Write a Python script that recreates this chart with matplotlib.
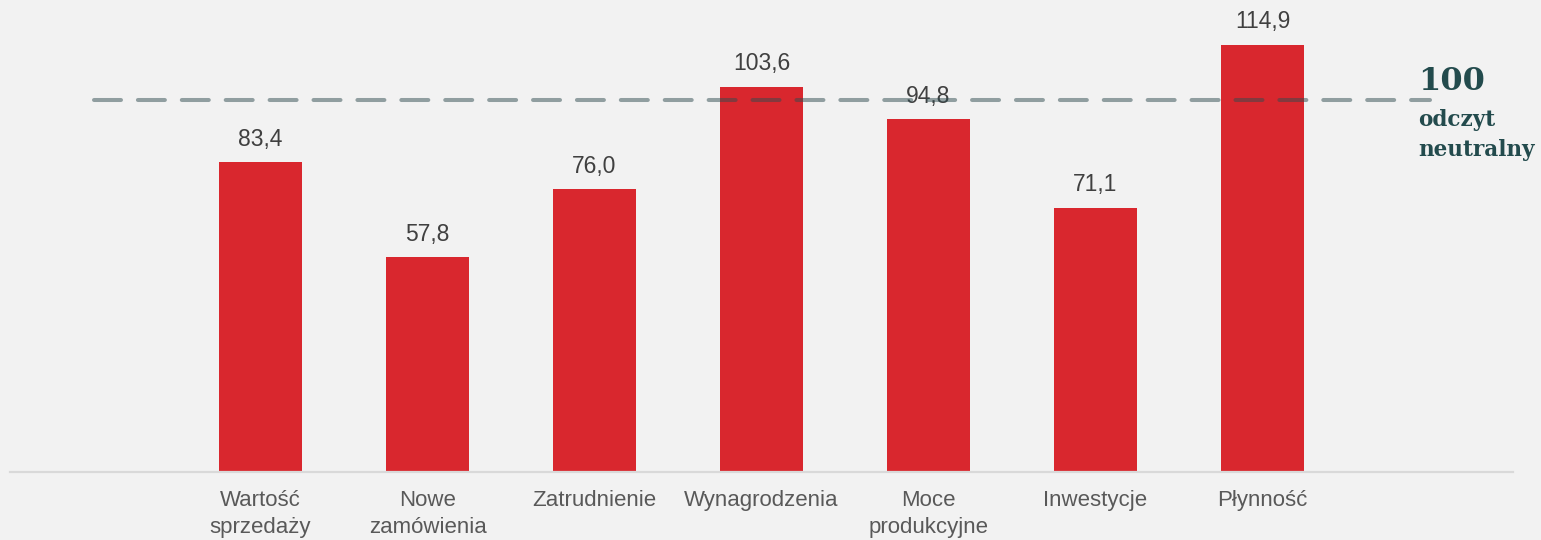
"""
Business climate sub-indices vs. the neutral reading of 100.
"""

import numpy as np
import matplotlib
matplotlib.use("Agg")
import matplotlib.pyplot as plt

# data
categories = ["Wartość\nsprzedaży", "Nowe\nzamówienia", "Zatrudnienie", "Wynagrodzenia",
              "Moce\nprodukcyjne", "Inwestycje", "Płynność"]
values = [83.4, 57.8, 76.0, 103.6, 94.8, 71.1, 114.9]
neutral = 100
neutral_label = "100"
neutral_text = "odczyt\nneutralny"

BG = "#f2f2f2"
BAR = "#d9272e"
TEAL = "#234b4d"

fig = plt.figure(figsize=(15.41, 5.40), dpi=100, facecolor=BG)
ax = fig.add_axes([10 / 1541, 68 / 540, 1503 / 1541, 465 / 540], facecolor=BG)

# one empty slot on each side of the bars
x_pos = np.arange(1, len(categories) + 1)
ax.bar(x_pos, values, width=0.5, color=BAR, zorder=2)

# value labels above bars
for x, v in zip(x_pos, values):
    ax.annotate(f"{v:.1f}".replace(".", ","), xy=(x, v), xytext=(0, 8),
                textcoords="offset points", ha="center", va="bottom",
                fontsize=16.5, color="#404040", family="Liberation Sans", zorder=3)

# neutral reference line, semi transparent on top of the bars
ax.plot([0, len(categories) + 1], [neutral, neutral], color="#2f4b4f", alpha=0.5,
        linewidth=2.9, dashes=(6.7, 4.2), dash_capstyle="round", zorder=4)

ax.set_xlim(-0.5, len(categories) + 1.5)
ax.set_ylim(0, 125)
ax.set_xticks(x_pos)
ax.set_xticklabels(categories, fontsize=16, color="#595959", family="Liberation Sans",
                   linespacing=1.4)
ax.tick_params(axis="x", length=0, pad=13)
ax.set_yticks([])

for side in ["top", "right", "left"]:
    ax.spines[side].set_visible(False)
ax.spines["bottom"].set_color("#d9d9d9")
ax.spines["bottom"].set_linewidth(1.6)

# label for the neutral line
fig.text(1418 / 1541, 1 - 82 / 540, neutral_label, ha="left", va="center",
         fontsize=23, weight="bold", family="DejaVu Serif", color=TEAL)
fig.text(1418 / 1541, 1 - 135 / 540, neutral_text, ha="left", va="center",
         fontsize=15.5, weight="bold", family="DejaVu Serif", color=TEAL, linespacing=1.45)

fig.savefig("out.png", dpi=100, facecolor=BG)
